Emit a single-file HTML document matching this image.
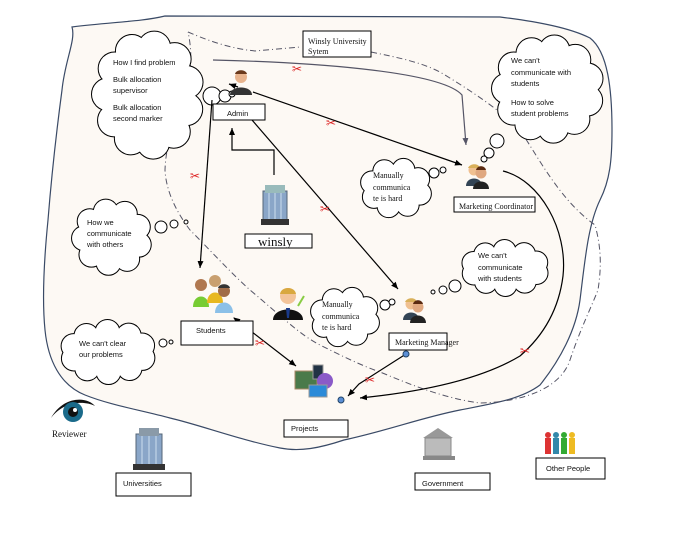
<!DOCTYPE html>
<html><head><meta charset="utf-8"><style>
body{margin:0;background:#fff;width:688px;height:552px;overflow:hidden}
svg{display:block}
.s{font-family:"Liberation Sans",sans-serif;font-size:7.5px;fill:#111}
.r{font-family:"Liberation Serif",serif;font-size:8px;fill:#111}
.bx{fill:#fff;stroke:#000;stroke-width:1}
.ln{stroke:#000;stroke-width:1.2;fill:none}
.sc{font-size:12px;fill:#d22}
</style></head><body>
<svg id="sv" width="688" height="552" viewBox="0 0 688 552" xmlns="http://www.w3.org/2000/svg">
<defs><marker id="a" markerWidth="8" markerHeight="8" refX="7" refY="4" orient="auto" markerUnits="userSpaceOnUse"><path d="M0,1 L7,4 L0,7z" fill="#000"/></marker>
<marker id="b" markerWidth="8" markerHeight="8" refX="1" refY="4" orient="auto" markerUnits="userSpaceOnUse"><path d="M7,1 L0,4 L7,7z" fill="#000"/></marker>
<marker id="g" markerWidth="8" markerHeight="8" refX="7" refY="4" orient="auto" markerUnits="userSpaceOnUse"><path d="M0,1 L7,4 L0,7z" fill="#556"/></marker></defs>
<path d="M72,27 C110,22 140,22 165,16 L500,17 C540,22 570,28 590,38 C608,52 612,90 612,130 C612,160 610,180 600,200 C588,225 585,260 580,300 C576,330 560,360 540,385 C520,400 490,404 460,410 C420,418 390,430 344,440 C320,448 300,452 280,448 C240,440 200,425 170,418 C140,410 110,405 85,395 C60,385 48,360 45,330 C42,300 44,260 48,220 C52,170 58,120 62,90 C65,60 76,40 72,27Z" fill="#fdf9f4" stroke="#3a4a66" stroke-width="1.2"/>
<path d="M188,32 C200,37 225,48 255,51 L300,47 M371,52 C400,58 420,62 440,72 C470,90 500,110 520,130 C540,160 560,200 595,225 C602,250 601,270 598,290 C590,310 580,330 570,360 C560,390 520,402 480,403 C440,398 400,380 380,372 C360,365 340,355 320,345 C300,335 280,315 250,290 C230,272 210,250 190,230 C175,210 166,190 165,170 C166,140 178,110 186,90 C192,70 192,50 188,32" fill="none" stroke="#556" stroke-width="1" stroke-dasharray="6,3,1,3"/>
<g id="clouds"></g>
<text class="s" x="113" y="65">How I find problem</text>
<text class="s" x="113" y="82">Bulk allocation</text><text class="s" x="113" y="93">supervisor</text>
<text class="s" x="113" y="110">Bulk allocation</text><text class="s" x="113" y="121">second marker</text>
<text class="s" x="511" y="63">We can't</text><text class="s" x="511" y="75">communicate with</text><text class="s" x="511" y="86">students</text>
<text class="s" x="511" y="105">How to solve</text><text class="s" x="511" y="116">student problems</text>
<text class="r" x="373" y="178">Manually</text><text class="r" x="373" y="190">communica</text><text class="r" x="373" y="201">te is hard</text>
<text class="s" x="87" y="225">How we</text><text class="s" x="87" y="236">communicate</text><text class="s" x="87" y="247">with others</text>
<text class="s" x="478" y="258">We can't</text><text class="s" x="478" y="270">communicate</text><text class="s" x="478" y="281">with students</text>
<text class="r" x="322" y="307">Manually</text><text class="r" x="322" y="319">communica</text><text class="r" x="322" y="330">te is hard</text>
<text class="s" x="79" y="346">We can't clear</text><text class="s" x="79" y="357">our problems</text>
<path d="M213,60 C300,62 440,70 462,95 L466,145" fill="none" stroke="#556" stroke-width="1.2" marker-end="url(#g)"/>
<path class="ln" d="M253,92 L462,165" marker-end="url(#a)"/>
<path class="ln" d="M252,120 L398,289" marker-end="url(#a)"/>
<path class="ln" d="M274,175 L274,150 L232,150 L232,128" marker-end="url(#a)"/>
<path class="ln" d="M212,100 L200,268" marker-end="url(#a)"/>
<path class="ln" d="M234,318 L296,366" marker-start="url(#b)" marker-end="url(#a)"/>
<path class="ln" d="M406,354 L359,384 L348,396" marker-end="url(#a)"/>
<path class="ln" d="M503,171 C540,180 568,230 563,276 C560,300 550,330 520,356 C480,380 420,392 360,398" marker-end="url(#a)"/>
<path class="ln" d="M238,87 L229,84" marker-end="url(#a)"/>
<circle cx="406" cy="354" r="3" fill="#5b8fd6" stroke="#246"/>
<circle cx="341" cy="400" r="3" fill="#5b8fd6" stroke="#246"/>
<text class="sc" x="292" y="73">✂</text><text class="sc" x="326" y="127">✂</text>
<text class="sc" x="190" y="180">✂</text><text class="sc" x="320" y="213">✂</text>
<text class="sc" x="255" y="347">✂</text><text class="sc" x="365" y="384">✂</text>
<text class="sc" x="520" y="355">✂</text>
<g>
<g transform="translate(241,83)"><path d="M-11,12 C-11,2 11,2 11,12z" fill="#333"/><circle cy="-6" r="6" fill="#e8b48e"/><path d="M-6,-9 C-5,-14 5,-14 6,-9z" fill="#6b3a1c"/></g>
<g transform="translate(476,176)"><path d="M-10,10 C-10,0 6,0 6,10z" fill="#345"/><circle cx="-2" cy="-6" r="5.5" fill="#f0c090"/><path d="M-8,-8 C-6,-13 3,-13 4,-8z" fill="#d9b05a"/><path d="M-3,13 C-3,3 13,3 13,13z" fill="#222"/><circle cx="5" cy="-3" r="5.5" fill="#e0a880"/><path d="M0,-6 C1,-11 9,-11 10,-6z" fill="#5a2a10"/></g>
<g transform="translate(413,310)"><path d="M-10,10 C-10,0 6,0 6,10z" fill="#345"/><circle cx="-2" cy="-6" r="5.5" fill="#f0c090"/><path d="M-8,-8 C-6,-13 3,-13 4,-8z" fill="#d9b05a"/><path d="M-3,13 C-3,3 13,3 13,13z" fill="#222"/><circle cx="5" cy="-3" r="5.5" fill="#e0a880"/><path d="M0,-6 C1,-11 9,-11 10,-6z" fill="#5a2a10"/></g>
<g transform="translate(288,302)"><path d="M-15,18 C-15,4 15,4 15,18z" fill="#111"/><path d="M-2,6 L2,6 L1,16 L-1,16z" fill="#1a3a8a"/><circle cy="-6" r="8" fill="#f3c49a"/><path d="M-8,-8 C-7,-16 7,-16 8,-8z" fill="#d9a840"/><path d="M10,4 L16,-6" stroke="#8c4" stroke-width="2"/></g>
<g transform="translate(215,295)"><path d="M-22,12 C-22,-2 -6,-2 -6,12z" fill="#7c3"/><circle cx="-14" cy="-10" r="6" fill="#b07850"/><path d="M-8,8 C-8,-6 8,-6 8,8z" fill="#e8b820"/><circle cy="-14" r="6" fill="#c9a070"/><path d="M0,18 C0,4 18,4 18,18z" fill="#8bc0e8"/><circle cx="9" cy="-4" r="6" fill="#a06c48"/><path d="M3,-7 C4,-12 14,-12 15,-7z" fill="#333"/></g>
</g>
<g transform="translate(263,185)"><rect x="0" y="6" width="24" height="30" fill="#8aa6c8" stroke="#567"/><rect x="2" y="0" width="20" height="8" fill="#9bb"/><rect x="-2" y="34" width="28" height="6" fill="#333"/><path d="M6,8 V34 M12,8 V34 M18,8 V34" stroke="#cde" stroke-width="1"/></g>
<g transform="translate(136,428)"><rect x="0" y="6" width="26" height="32" fill="#8aa6c8" stroke="#567"/><rect x="3" y="0" width="20" height="8" fill="#8a9aa8"/><rect x="-3" y="36" width="32" height="6" fill="#333"/><path d="M6,8 V36 M13,8 V36 M20,8 V36" stroke="#cde" stroke-width="1"/></g>
<g transform="translate(295,365)"><rect x="0" y="6" width="22" height="18" fill="#4a7a4a" stroke="#a86"/><rect x="18" y="0" width="10" height="14" fill="#234" stroke="#999"/><circle cx="30" cy="16" r="8" fill="#8a5ac8"/><rect x="14" y="20" width="18" height="12" fill="#2a8ad8" stroke="#999"/></g>
<g transform="translate(423,428)"><path d="M0,10 L15,0 L30,10z" fill="#999"/><rect x="2" y="10" width="26" height="18" fill="#bbb" stroke="#888"/><rect x="0" y="28" width="32" height="4" fill="#888"/></g>
<g transform="translate(545,432)"><rect x="0" y="6" width="6" height="16" fill="#d33"/><rect x="8" y="6" width="6" height="16" fill="#38a"/><rect x="16" y="6" width="6" height="16" fill="#3a3"/><rect x="24" y="6" width="6" height="16" fill="#eb2"/><circle cx="3" cy="3" r="3" fill="#d33"/><circle cx="11" cy="3" r="3" fill="#38a"/><circle cx="19" cy="3" r="3" fill="#3a3"/><circle cx="27" cy="3" r="3" fill="#eb2"/></g>
<g transform="translate(73,412)"><path d="M-22,6 C-10,-16 14,-16 22,-6 C10,-12 -10,-10 -22,6z" fill="#111"/><circle r="10" fill="#1a6a8a"/><circle r="5" fill="#111"/><circle cx="2" cy="-2" r="2" fill="#fff"/></g>
<text class="r" x="52" y="437" style="font-size:9px">Reviewer</text>
<rect class="bx" x="303" y="31" width="68" height="26"/><text class="r" x="308" y="44">Winsly University</text><text class="r" x="308" y="54">Sytem</text>
<rect class="bx" x="213" y="104" width="52" height="16"/><text class="s" x="227" y="116">Admin</text>
<rect class="bx" x="454" y="197" width="81" height="15"/><text class="r" x="459" y="209">Marketing Coordinator</text>
<rect class="bx" x="245" y="234" width="67" height="14"/><text class="r" x="258" y="246" style="font-size:13px">winsly</text>
<rect class="bx" x="181" y="321" width="72" height="24"/><text class="s" x="196" y="333">Students</text>
<rect class="bx" x="389" y="333" width="58" height="17"/><text class="r" x="395" y="345">Marketing Manager</text>
<rect class="bx" x="284" y="420" width="64" height="17"/><text class="s" x="291" y="431">Projects</text>
<rect class="bx" x="116" y="473" width="75" height="23"/><text class="s" x="123" y="486">Universities</text>
<rect class="bx" x="415" y="473" width="75" height="17"/><text class="s" x="422" y="486">Government</text>
<rect class="bx" x="536" y="458" width="69" height="21"/><text class="s" x="546" y="471">Other People</text>
</svg>
<script>
var C=[[148,95,56,64,16,11],[548,89,56,54,15,11],[396,188,36,30,11,8],[112,237,40,38,12,9],[505,268,44,28,11,10],[345,317,35,30,11,8],[108,352,48,32,12,10]];
var T=[[212,96,9],[225,96,6],[232,94,3],[497,141,7],[489,153,5],[484,159,3],[434,173,5],[443,170,3],[161,227,6],[174,224,4],[186,222,2],[455,286,6],[443,290,4],[433,292,2],[385,305,5],[392,302,3],[163,343,4],[171,342,2]];
var g=document.getElementById('clouds'),s='',f='';
C.forEach(function(c){for(var i=0;i<c[5];i++){var a=i/c[5]*2*Math.PI+0.3;var x=c[0]+(c[2]-c[4])*Math.cos(a),y=c[1]+(c[3]-c[4])*Math.sin(a);s+='<circle cx="'+x+'" cy="'+y+'" r="'+c[4]+'" fill="#fff" stroke="#000" stroke-width="2"/>';f+='<circle cx="'+x+'" cy="'+y+'" r="'+c[4]+'" fill="#fff"/>';}
f+='<ellipse cx="'+c[0]+'" cy="'+c[1]+'" rx="'+(c[2]-c[4])+'" ry="'+(c[3]-c[4])+'" fill="#fff"/>';});
T.forEach(function(t){s+='<circle cx="'+t[0]+'" cy="'+t[1]+'" r="'+t[2]+'" fill="#fff" stroke="#000" stroke-width="1"/>';});
g.innerHTML=s+f;
</script>
</body></html>
